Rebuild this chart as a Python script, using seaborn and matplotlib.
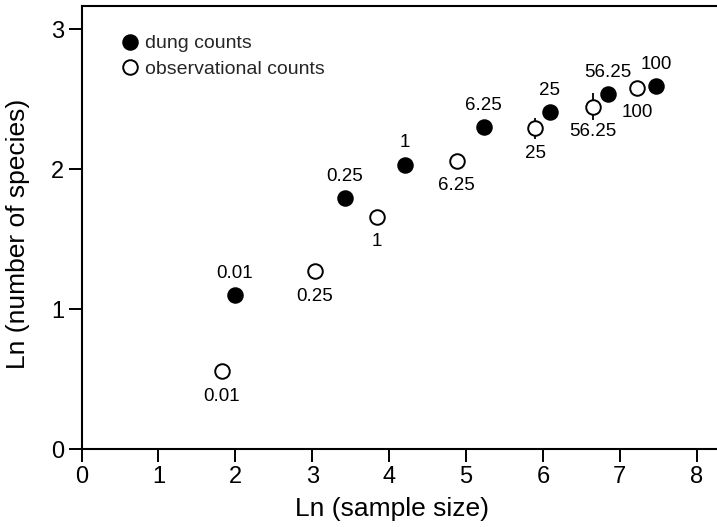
import matplotlib
matplotlib.use("Agg")
import matplotlib.pyplot as plt
import seaborn as sns
import pandas as pd
from matplotlib.lines import Line2D

# ---- data ----
area_labels = ["0.01", "0.25", "1", "6.25", "25", "56.25", "100"]
dung_x = [1.99, 3.42, 4.21, 5.23, 6.09, 6.85, 7.47]
dung_y = [1.10, 1.79, 2.03, 2.30, 2.405, 2.535, 2.59]
obs_x = [1.82, 3.03, 3.84, 4.88, 5.90, 6.65, 7.23]
obs_y = [0.557, 1.27, 1.66, 2.06, 2.29, 2.445, 2.58]
obs_err = [0, 0, 0, 0, 0.075, 0.095, 0]
x_ticks = [0, 1, 2, 3, 4, 5, 6, 7, 8]
y_ticks = [0, 1, 2, 3]

sns.set_theme(style="ticks")
plt.rcParams["font.family"] = ["Liberation Sans", "DejaVu Sans"]

df = pd.DataFrame({
    "x": dung_x + obs_x,
    "y": dung_y + obs_y,
    "type": ["dung counts"] * len(dung_x) + ["observational counts"] * len(obs_x),
})

fig = plt.figure(figsize=(7.17, 5.27), dpi=100)
ax = fig.add_axes([81.6 / 717, 1 - 449 / 527, 1 - 81.6 / 717 + 0.001, (449 - 6) / 527])

# error bars (behind markers)
ax.errorbar(obs_x, obs_y, yerr=obs_err, fmt="none", ecolor="black",
            elinewidth=1.3, capsize=0, zorder=1)

sns.scatterplot(data=df[df["type"] == "dung counts"], x="x", y="y", ax=ax,
                color="black", edgecolor="black", s=110, linewidth=1.4,
                legend=False, zorder=3)
sns.scatterplot(data=df[df["type"] == "observational counts"], x="x", y="y", ax=ax,
                color="white", edgecolor="black", s=110, linewidth=1.4,
                legend=False, zorder=3)

for lbl, x, y in zip(area_labels, dung_x, dung_y):
    ax.annotate(lbl, (x, y), xytext=(0, 22), textcoords="offset pixels",
                ha="center", va="center", fontsize=13.5, color="black")
for lbl, x, y in zip(area_labels, obs_x, obs_y):
    ax.annotate(lbl, (x, y), xytext=(0, -25), textcoords="offset pixels",
                ha="center", va="center", fontsize=13.5, color="black")

ax.set_xlim(0, (717 - 81.6) / 76.8)
ax.set_ylim(0, 3 + 23 / 140)
ax.set_xticks(x_ticks)
ax.set_yticks(y_ticks)
ax.set_xticklabels([str(t) for t in x_ticks])
ax.set_yticklabels([str(t) for t in y_ticks])
ax.tick_params(axis="both", direction="out", length=9.5, width=1.4,
               labelsize=17, color="black", labelcolor="black", pad=3)
for side in ["left", "bottom", "top"]:
    ax.spines[side].set_linewidth(1.5)
    ax.spines[side].set_color("black")
ax.spines["right"].set_visible(False)
ax.set_xlabel("Ln (sample size)", fontsize=19, color="black")
ax.set_ylabel("Ln (number of species)", fontsize=19, color="black")
ax.xaxis.set_label_coords(0.488, -0.108)
ax.yaxis.set_label_coords(-0.081, 0.486)

handles = [
    Line2D([], [], marker="o", linestyle="none", markerfacecolor="black",
           markeredgecolor="black", markersize=10.5, markeredgewidth=1.4),
    Line2D([], [], marker="o", linestyle="none", markerfacecolor="white",
           markeredgecolor="black", markersize=10.5, markeredgewidth=1.4),
]
ax.legend(handles, ["dung counts", "observational counts"], loc="upper left",
          bbox_to_anchor=(0.04, 0.97), frameon=False, fontsize=14,
          handlelength=0.8, handletextpad=0.35, labelspacing=0.42, borderpad=0.3)

fig.savefig("out.png", dpi=100)
